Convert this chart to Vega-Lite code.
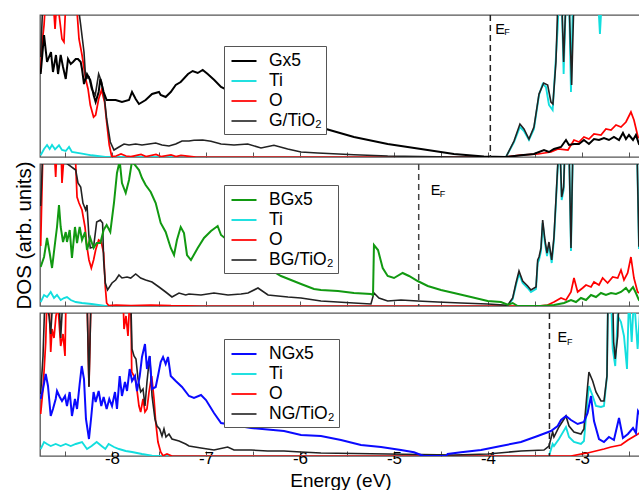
{
"$schema": "https://vega.github.io/schema/vega-lite/v6.json",
"padding": {"left": 13, "top": 13, "right": 0, "bottom": 0},
"spacing": 1,
"config": {"view": {"stroke": "#555555", "strokeWidth": 1.3}, "font": "Liberation Sans"},
"resolve": {"scale": {"color": "independent", "strokeWidth": "independent", "y": "independent", "x": "independent"}, "legend": {"color": "independent"}},
"datasets": {
"top": [
{"s":"Ti","e":-8.759,"d":1.7},{"s":"Ti","e":-8.723,"d":8},{"s":"Ti","e":-8.691,"d":12},{"s":"Ti","e":-8.663,"d":8},{"s":"Ti","e":-8.638,"d":12},{"s":"Ti","e":-8.606,"d":7.7},{"s":"Ti","e":-8.564,"d":11.7},{"s":"Ti","e":-8.532,"d":7},{"s":"Ti","e":-8.492,"d":6},{"s":"Ti","e":-8.457,"d":10},{"s":"Ti","e":-8.426,"d":5},{"s":"Ti","e":-8.319,"d":3.3},{"s":"Ti","e":-8.217,"d":1.7},{"s":"Ti","e":-8.071,"d":0},{"s":"Ti","e":-3.809,"d":0},{"s":"Ti","e":-3.723,"d":15},{"s":"Ti","e":-3.66,"d":30},{"s":"Ti","e":-3.617,"d":26},{"s":"Ti","e":-3.564,"d":17},{"s":"Ti","e":-3.511,"d":28},{"s":"Ti","e":-3.457,"d":62},{"s":"Ti","e":-3.418,"d":73},{"s":"Ti","e":-3.383,"d":70},{"s":"Ti","e":-3.351,"d":52},{"s":"Ti","e":-3.312,"d":47},{"s":"Ti","e":-3.298,"d":68},{"s":"Ti","e":-3.259,"d":128},{"s":"Ti","e":-3.245,"d":160},{"s":"Ti","e":-3.216,"d":160},{"s":"Ti","e":-3.195,"d":83},{"s":"Ti","e":-3.17,"d":160},{"s":"Ti","e":-3.138,"d":160},{"s":"Ti","e":-3.117,"d":65},{"s":"Ti","e":-3.096,"d":160},{"s":"Ti","e":-2.83,"d":160},{"s":"Ti","e":-2.809,"d":123},{"s":"Ti","e":-2.787,"d":160},{"s":"Ti","e":-2.372,"d":160},
{"s":"O","e":-8.759,"d":85},{"s":"O","e":-8.745,"d":112},{"s":"O","e":-8.723,"d":132},{"s":"O","e":-8.705,"d":160},{"s":"O","e":-8.628,"d":160},{"s":"O","e":-8.606,"d":128},{"s":"O","e":-8.585,"d":160},{"s":"O","e":-8.532,"d":118},{"s":"O","e":-8.511,"d":115},{"s":"O","e":-8.489,"d":160},{"s":"O","e":-8.383,"d":160},{"s":"O","e":-8.351,"d":118},{"s":"O","e":-8.319,"d":102},{"s":"O","e":-8.28,"d":78},{"s":"O","e":-8.255,"d":68},{"s":"O","e":-8.231,"d":52},{"s":"O","e":-8.196,"d":40},{"s":"O","e":-8.174,"d":42},{"s":"O","e":-8.142,"d":58},{"s":"O","e":-8.111,"d":67},{"s":"O","e":-8.079,"d":55},{"s":"O","e":-8.057,"d":35},{"s":"O","e":-8.029,"d":12},{"s":"O","e":-8.003,"d":0.5},{"s":"O","e":-7.957,"d":1},{"s":"O","e":-7.904,"d":3},{"s":"O","e":-7.851,"d":1},{"s":"O","e":-7.798,"d":0.3},{"s":"O","e":-7.691,"d":2.5},{"s":"O","e":-7.638,"d":0.5},{"s":"O","e":-7.532,"d":2.5},{"s":"O","e":-7.479,"d":0.5},{"s":"O","e":-7.372,"d":2},{"s":"O","e":-7.319,"d":0.5},{"s":"O","e":-7.266,"d":1.5},{"s":"O","e":-7.106,"d":0},{"s":"O","e":-3.809,"d":0},{"s":"O","e":-3.649,"d":2},{"s":"O","e":-3.468,"d":3},{"s":"O","e":-3.33,"d":5},{"s":"O","e":-3.255,"d":8},{"s":"O","e":-3.149,"d":7},{"s":"O","e":-3.085,"d":17},{"s":"O","e":-3.032,"d":15},{"s":"O","e":-2.979,"d":20},{"s":"O","e":-2.926,"d":18},{"s":"O","e":-2.872,"d":23},{"s":"O","e":-2.798,"d":22},{"s":"O","e":-2.745,"d":28},{"s":"O","e":-2.691,"d":27},{"s":"O","e":-2.638,"d":32},{"s":"O","e":-2.585,"d":30},{"s":"O","e":-2.532,"d":35},{"s":"O","e":-2.479,"d":45},{"s":"O","e":-2.447,"d":37},{"s":"O","e":-2.404,"d":20},{"s":"O","e":-2.372,"d":18},
{"s":"G/TiO₂","e":-8.759,"d":100},{"s":"G/TiO₂","e":-8.734,"d":160},{"s":"G/TiO₂","e":-8.372,"d":160},{"s":"G/TiO₂","e":-8.333,"d":132},{"s":"G/TiO₂","e":-8.298,"d":105},{"s":"G/TiO₂","e":-8.28,"d":78},{"s":"G/TiO₂","e":-8.245,"d":80},{"s":"G/TiO₂","e":-8.217,"d":68},{"s":"G/TiO₂","e":-8.178,"d":62},{"s":"G/TiO₂","e":-8.142,"d":83},{"s":"G/TiO₂","e":-8.111,"d":75},{"s":"G/TiO₂","e":-8.079,"d":58},{"s":"G/TiO₂","e":-8.057,"d":38},{"s":"G/TiO₂","e":-8.018,"d":15},{"s":"G/TiO₂","e":-7.979,"d":7},{"s":"G/TiO₂","e":-7.926,"d":10},{"s":"G/TiO₂","e":-7.872,"d":13},{"s":"G/TiO₂","e":-7.819,"d":12},{"s":"G/TiO₂","e":-7.748,"d":13},{"s":"G/TiO₂","e":-7.681,"d":12},{"s":"G/TiO₂","e":-7.606,"d":13},{"s":"G/TiO₂","e":-7.535,"d":14},{"s":"G/TiO₂","e":-7.468,"d":12},{"s":"G/TiO₂","e":-7.394,"d":11},{"s":"G/TiO₂","e":-7.322,"d":13},{"s":"G/TiO₂","e":-7.255,"d":16},{"s":"G/TiO₂","e":-7.181,"d":16},{"s":"G/TiO₂","e":-7.128,"d":16.7},{"s":"G/TiO₂","e":-7.035,"d":17},{"s":"G/TiO₂","e":-6.947,"d":15.7},{"s":"G/TiO₂","e":-6.84,"d":13},{"s":"G/TiO₂","e":-6.702,"d":12},{"s":"G/TiO₂","e":-6.556,"d":13},{"s":"G/TiO₂","e":-6.415,"d":9},{"s":"G/TiO₂","e":-6.277,"d":11.7},{"s":"G/TiO₂","e":-6.131,"d":8},{"s":"G/TiO₂","e":-5.989,"d":5},{"s":"G/TiO₂","e":-5.812,"d":4},{"s":"G/TiO₂","e":-5.426,"d":2.3},{"s":"G/TiO₂","e":-5.067,"d":1},{"s":"G/TiO₂","e":-4.362,"d":0},{"s":"G/TiO₂","e":-3.809,"d":0},{"s":"G/TiO₂","e":-3.723,"d":16},{"s":"G/TiO₂","e":-3.66,"d":33},{"s":"G/TiO₂","e":-3.617,"d":28},{"s":"G/TiO₂","e":-3.564,"d":18},{"s":"G/TiO₂","e":-3.511,"d":30},{"s":"G/TiO₂","e":-3.457,"d":63},{"s":"G/TiO₂","e":-3.407,"d":74},{"s":"G/TiO₂","e":-3.365,"d":72},{"s":"G/TiO₂","e":-3.33,"d":55},{"s":"G/TiO₂","e":-3.309,"d":53},{"s":"G/TiO₂","e":-3.277,"d":95},{"s":"G/TiO₂","e":-3.255,"d":160},{"s":"G/TiO₂","e":-3.216,"d":160},{"s":"G/TiO₂","e":-3.195,"d":95},{"s":"G/TiO₂","e":-3.17,"d":160},{"s":"G/TiO₂","e":-3.138,"d":160},{"s":"G/TiO₂","e":-3.11,"d":72},{"s":"G/TiO₂","e":-3.085,"d":160},{"s":"G/TiO₂","e":-2.372,"d":160},
{"s":"Gx5","e":-8.759,"d":83},{"s":"Gx5","e":-8.723,"d":122},{"s":"Gx5","e":-8.691,"d":95},{"s":"Gx5","e":-8.649,"d":105},{"s":"Gx5","e":-8.628,"d":85},{"s":"Gx5","e":-8.596,"d":102},{"s":"Gx5","e":-8.574,"d":83},{"s":"Gx5","e":-8.546,"d":102},{"s":"Gx5","e":-8.521,"d":90},{"s":"Gx5","e":-8.492,"d":78},{"s":"Gx5","e":-8.468,"d":98},{"s":"Gx5","e":-8.439,"d":93},{"s":"Gx5","e":-8.415,"d":95},{"s":"Gx5","e":-8.386,"d":98},{"s":"Gx5","e":-8.362,"d":98},{"s":"Gx5","e":-8.333,"d":95},{"s":"Gx5","e":-8.319,"d":88},{"s":"Gx5","e":-8.298,"d":73},{"s":"Gx5","e":-8.266,"d":83},{"s":"Gx5","e":-8.231,"d":77},{"s":"Gx5","e":-8.196,"d":62},{"s":"Gx5","e":-8.174,"d":55},{"s":"Gx5","e":-8.142,"d":65},{"s":"Gx5","e":-8.124,"d":78},{"s":"Gx5","e":-8.089,"d":65},{"s":"Gx5","e":-8.057,"d":57},{"s":"Gx5","e":-7.961,"d":57},{"s":"Gx5","e":-7.894,"d":55},{"s":"Gx5","e":-7.819,"d":57},{"s":"Gx5","e":-7.787,"d":65},{"s":"Gx5","e":-7.748,"d":58},{"s":"Gx5","e":-7.713,"d":53},{"s":"Gx5","e":-7.642,"d":57},{"s":"Gx5","e":-7.574,"d":63},{"s":"Gx5","e":-7.5,"d":65},{"s":"Gx5","e":-7.482,"d":62},{"s":"Gx5","e":-7.429,"d":60},{"s":"Gx5","e":-7.375,"d":65},{"s":"Gx5","e":-7.322,"d":72},{"s":"Gx5","e":-7.269,"d":75},{"s":"Gx5","e":-7.191,"d":83},{"s":"Gx5","e":-7.142,"d":86},{"s":"Gx5","e":-7.088,"d":84},{"s":"Gx5","e":-7.035,"d":87},{"s":"Gx5","e":-6.982,"d":83},{"s":"Gx5","e":-6.912,"d":77},{"s":"Gx5","e":-6.84,"d":70},{"s":"Gx5","e":-6.521,"d":55},{"s":"Gx5","e":-6.096,"d":40},{"s":"Gx5","e":-5.723,"d":28},{"s":"Gx5","e":-5.426,"d":20},{"s":"Gx5","e":-5.067,"d":13},{"s":"Gx5","e":-4.713,"d":8},{"s":"Gx5","e":-4.362,"d":3},{"s":"Gx5","e":-4.043,"d":0.5},{"s":"Gx5","e":-3.809,"d":0},{"s":"Gx5","e":-3.649,"d":1.7},{"s":"Gx5","e":-3.511,"d":3},{"s":"Gx5","e":-3.404,"d":7},{"s":"Gx5","e":-3.351,"d":5},{"s":"Gx5","e":-3.298,"d":8},{"s":"Gx5","e":-3.223,"d":10},{"s":"Gx5","e":-3.17,"d":17},{"s":"Gx5","e":-3.138,"d":12},{"s":"Gx5","e":-3.085,"d":13},{"s":"Gx5","e":-3.032,"d":13},{"s":"Gx5","e":-2.979,"d":17},{"s":"Gx5","e":-2.926,"d":13},{"s":"Gx5","e":-2.872,"d":18},{"s":"Gx5","e":-2.819,"d":17},{"s":"Gx5","e":-2.766,"d":19},{"s":"Gx5","e":-2.713,"d":17},{"s":"Gx5","e":-2.66,"d":20},{"s":"Gx5","e":-2.606,"d":17},{"s":"Gx5","e":-2.564,"d":24},{"s":"Gx5","e":-2.532,"d":18},{"s":"Gx5","e":-2.5,"d":22},{"s":"Gx5","e":-2.457,"d":17},{"s":"Gx5","e":-2.426,"d":22},{"s":"Gx5","e":-2.394,"d":13},{"s":"Gx5","e":-2.372,"d":12}
],
"mid": [
{"s":"Ti","e":-8.759,"d":4},{"s":"Ti","e":-8.723,"d":11},{"s":"Ti","e":-8.691,"d":9},{"s":"Ti","e":-8.652,"d":14},{"s":"Ti","e":-8.617,"d":8},{"s":"Ti","e":-8.585,"d":11},{"s":"Ti","e":-8.546,"d":6},{"s":"Ti","e":-8.511,"d":8},{"s":"Ti","e":-8.479,"d":9},{"s":"Ti","e":-8.439,"d":6},{"s":"Ti","e":-8.386,"d":4},{"s":"Ti","e":-8.319,"d":3},{"s":"Ti","e":-8.217,"d":2},{"s":"Ti","e":-8.071,"d":0},{"s":"Ti","e":-3.791,"d":0},{"s":"Ti","e":-3.737,"d":7},{"s":"Ti","e":-3.702,"d":21},{"s":"Ti","e":-3.67,"d":32},{"s":"Ti","e":-3.631,"d":23},{"s":"Ti","e":-3.578,"d":18},{"s":"Ti","e":-3.543,"d":14},{"s":"Ti","e":-3.489,"d":17},{"s":"Ti","e":-3.471,"d":43},{"s":"Ti","e":-3.457,"d":46},{"s":"Ti","e":-3.436,"d":55},{"s":"Ti","e":-3.418,"d":83},{"s":"Ti","e":-3.394,"d":63},{"s":"Ti","e":-3.372,"d":50},{"s":"Ti","e":-3.351,"d":61},{"s":"Ti","e":-3.322,"d":43},{"s":"Ti","e":-3.298,"d":66},{"s":"Ti","e":-3.277,"d":103},{"s":"Ti","e":-3.259,"d":136},{"s":"Ti","e":-3.245,"d":160},{"s":"Ti","e":-3.234,"d":160},{"s":"Ti","e":-3.216,"d":106},{"s":"Ti","e":-3.195,"d":116},{"s":"Ti","e":-3.181,"d":160},{"s":"Ti","e":-3.138,"d":160},{"s":"Ti","e":-3.117,"d":55},{"s":"Ti","e":-3.096,"d":160},{"s":"Ti","e":-2.415,"d":160},{"s":"Ti","e":-2.394,"d":58},{"s":"Ti","e":-2.372,"d":58},
{"s":"O","e":-8.759,"d":60},{"s":"O","e":-8.734,"d":160},{"s":"O","e":-8.617,"d":160},{"s":"O","e":-8.599,"d":129},{"s":"O","e":-8.585,"d":160},{"s":"O","e":-8.543,"d":160},{"s":"O","e":-8.532,"d":123},{"s":"O","e":-8.511,"d":150},{"s":"O","e":-8.394,"d":160},{"s":"O","e":-8.372,"d":109},{"s":"O","e":-8.351,"d":103},{"s":"O","e":-8.319,"d":96},{"s":"O","e":-8.287,"d":79},{"s":"O","e":-8.266,"d":59},{"s":"O","e":-8.245,"d":46},{"s":"O","e":-8.22,"d":38},{"s":"O","e":-8.196,"d":46},{"s":"O","e":-8.174,"d":56},{"s":"O","e":-8.142,"d":66},{"s":"O","e":-8.114,"d":64},{"s":"O","e":-8.089,"d":53},{"s":"O","e":-8.071,"d":19},{"s":"O","e":-8.057,"d":3},{"s":"O","e":-8.036,"d":0.5},{"s":"O","e":-7.957,"d":1},{"s":"O","e":-7.798,"d":0.5},{"s":"O","e":-7.585,"d":1},{"s":"O","e":-7.372,"d":0.3},{"s":"O","e":-7.053,"d":0},{"s":"O","e":-3.471,"d":0},{"s":"O","e":-3.365,"d":1},{"s":"O","e":-3.298,"d":4},{"s":"O","e":-3.223,"d":8},{"s":"O","e":-3.17,"d":6},{"s":"O","e":-3.117,"d":14},{"s":"O","e":-3.085,"d":28},{"s":"O","e":-3.046,"d":14},{"s":"O","e":-2.993,"d":18},{"s":"O","e":-2.957,"d":21},{"s":"O","e":-2.904,"d":19},{"s":"O","e":-2.872,"d":24},{"s":"O","e":-2.819,"d":21},{"s":"O","e":-2.78,"d":28},{"s":"O","e":-2.727,"d":23},{"s":"O","e":-2.673,"d":29},{"s":"O","e":-2.62,"d":28},{"s":"O","e":-2.585,"d":36},{"s":"O","e":-2.553,"d":26},{"s":"O","e":-2.514,"d":33},{"s":"O","e":-2.479,"d":49},{"s":"O","e":-2.447,"d":28},{"s":"O","e":-2.408,"d":14},{"s":"O","e":-2.372,"d":12},
{"s":"BG/TiO₂","e":-8.759,"d":100},{"s":"BG/TiO₂","e":-8.734,"d":160},{"s":"BG/TiO₂","e":-8.386,"d":136},{"s":"BG/TiO₂","e":-8.362,"d":123},{"s":"BG/TiO₂","e":-8.333,"d":119},{"s":"BG/TiO₂","e":-8.309,"d":103},{"s":"BG/TiO₂","e":-8.28,"d":96},{"s":"BG/TiO₂","e":-8.266,"d":101},{"s":"BG/TiO₂","e":-8.245,"d":69},{"s":"BG/TiO₂","e":-8.231,"d":58},{"s":"BG/TiO₂","e":-8.196,"d":59},{"s":"BG/TiO₂","e":-8.163,"d":84},{"s":"BG/TiO₂","e":-8.124,"d":86},{"s":"BG/TiO₂","e":-8.1,"d":83},{"s":"BG/TiO₂","e":-8.089,"d":46},{"s":"BG/TiO₂","e":-8.071,"d":23},{"s":"BG/TiO₂","e":-8.047,"d":16},{"s":"BG/TiO₂","e":-8.0,"d":23},{"s":"BG/TiO₂","e":-7.961,"d":26},{"s":"BG/TiO₂","e":-7.926,"d":31},{"s":"BG/TiO₂","e":-7.894,"d":28},{"s":"BG/TiO₂","e":-7.84,"d":29},{"s":"BG/TiO₂","e":-7.801,"d":28},{"s":"BG/TiO₂","e":-7.748,"d":32},{"s":"BG/TiO₂","e":-7.695,"d":28},{"s":"BG/TiO₂","e":-7.642,"d":26},{"s":"BG/TiO₂","e":-7.574,"d":24},{"s":"BG/TiO₂","e":-7.5,"d":19},{"s":"BG/TiO₂","e":-7.429,"d":14},{"s":"BG/TiO₂","e":-7.362,"d":9},{"s":"BG/TiO₂","e":-7.287,"d":13},{"s":"BG/TiO₂","e":-7.216,"d":11},{"s":"BG/TiO₂","e":-7.181,"d":12},{"s":"BG/TiO₂","e":-7.053,"d":11},{"s":"BG/TiO₂","e":-6.915,"d":13},{"s":"BG/TiO₂","e":-6.766,"d":11},{"s":"BG/TiO₂","e":-6.628,"d":12},{"s":"BG/TiO₂","e":-6.553,"d":13},{"s":"BG/TiO₂","e":-6.447,"d":18},{"s":"BG/TiO₂","e":-6.34,"d":11},{"s":"BG/TiO₂","e":-6.128,"d":9},{"s":"BG/TiO₂","e":-5.989,"d":8},{"s":"BG/TiO₂","e":-5.777,"d":5},{"s":"BG/TiO₂","e":-5.426,"d":3},{"s":"BG/TiO₂","e":-5.245,"d":2},{"s":"BG/TiO₂","e":-5.213,"d":13},{"s":"BG/TiO₂","e":-5.16,"d":8},{"s":"BG/TiO₂","e":-5.067,"d":5},{"s":"BG/TiO₂","e":-4.926,"d":6},{"s":"BG/TiO₂","e":-4.748,"d":5},{"s":"BG/TiO₂","e":-4.535,"d":4},{"s":"BG/TiO₂","e":-4.287,"d":3},{"s":"BG/TiO₂","e":-4.003,"d":2},{"s":"BG/TiO₂","e":-3.791,"d":0.7},{"s":"BG/TiO₂","e":-3.737,"d":8},{"s":"BG/TiO₂","e":-3.702,"d":23},{"s":"BG/TiO₂","e":-3.67,"d":35},{"s":"BG/TiO₂","e":-3.631,"d":25},{"s":"BG/TiO₂","e":-3.578,"d":20},{"s":"BG/TiO₂","e":-3.543,"d":16},{"s":"BG/TiO₂","e":-3.489,"d":19},{"s":"BG/TiO₂","e":-3.471,"d":46},{"s":"BG/TiO₂","e":-3.457,"d":49},{"s":"BG/TiO₂","e":-3.436,"d":58},{"s":"BG/TiO₂","e":-3.418,"d":86},{"s":"BG/TiO₂","e":-3.394,"d":66},{"s":"BG/TiO₂","e":-3.372,"d":53},{"s":"BG/TiO₂","e":-3.351,"d":64},{"s":"BG/TiO₂","e":-3.322,"d":46},{"s":"BG/TiO₂","e":-3.298,"d":69},{"s":"BG/TiO₂","e":-3.277,"d":106},{"s":"BG/TiO₂","e":-3.259,"d":139},{"s":"BG/TiO₂","e":-3.245,"d":160},{"s":"BG/TiO₂","e":-3.234,"d":160},{"s":"BG/TiO₂","e":-3.216,"d":109},{"s":"BG/TiO₂","e":-3.195,"d":119},{"s":"BG/TiO₂","e":-3.181,"d":160},{"s":"BG/TiO₂","e":-3.138,"d":160},{"s":"BG/TiO₂","e":-3.117,"d":58},{"s":"BG/TiO₂","e":-3.096,"d":160},{"s":"BG/TiO₂","e":-2.415,"d":160},{"s":"BG/TiO₂","e":-2.394,"d":60},{"s":"BG/TiO₂","e":-2.372,"d":60},
{"s":"BGx5","e":-8.759,"d":39},{"s":"BGx5","e":-8.723,"d":49},{"s":"BGx5","e":-8.691,"d":68},{"s":"BGx5","e":-8.663,"d":53},{"s":"BGx5","e":-8.638,"d":38},{"s":"BGx5","e":-8.606,"d":63},{"s":"BGx5","e":-8.585,"d":79},{"s":"BGx5","e":-8.564,"d":101},{"s":"BGx5","e":-8.546,"d":79},{"s":"BGx5","e":-8.521,"d":64},{"s":"BGx5","e":-8.492,"d":74},{"s":"BGx5","e":-8.479,"d":64},{"s":"BGx5","e":-8.45,"d":76},{"s":"BGx5","e":-8.426,"d":48},{"s":"BGx5","e":-8.394,"d":79},{"s":"BGx5","e":-8.372,"d":63},{"s":"BGx5","e":-8.344,"d":79},{"s":"BGx5","e":-8.319,"d":66},{"s":"BGx5","e":-8.287,"d":74},{"s":"BGx5","e":-8.266,"d":56},{"s":"BGx5","e":-8.231,"d":68},{"s":"BGx5","e":-8.196,"d":58},{"s":"BGx5","e":-8.163,"d":63},{"s":"BGx5","e":-8.124,"d":63},{"s":"BGx5","e":-8.089,"d":76},{"s":"BGx5","e":-8.057,"d":81},{"s":"BGx5","e":-8.018,"d":74},{"s":"BGx5","e":-7.979,"d":103},{"s":"BGx5","e":-7.947,"d":133},{"s":"BGx5","e":-7.918,"d":145},{"s":"BGx5","e":-7.894,"d":123},{"s":"BGx5","e":-7.854,"d":113},{"s":"BGx5","e":-7.819,"d":126},{"s":"BGx5","e":-7.787,"d":145},{"s":"BGx5","e":-7.748,"d":140},{"s":"BGx5","e":-7.713,"d":136},{"s":"BGx5","e":-7.681,"d":128},{"s":"BGx5","e":-7.642,"d":121},{"s":"BGx5","e":-7.588,"d":114},{"s":"BGx5","e":-7.535,"d":103},{"s":"BGx5","e":-7.482,"d":83},{"s":"BGx5","e":-7.429,"d":74},{"s":"BGx5","e":-7.375,"d":58},{"s":"BGx5","e":-7.34,"d":51},{"s":"BGx5","e":-7.309,"d":66},{"s":"BGx5","e":-7.269,"d":79},{"s":"BGx5","e":-7.234,"d":73},{"s":"BGx5","e":-7.202,"d":51},{"s":"BGx5","e":-7.16,"d":46},{"s":"BGx5","e":-7.088,"d":58},{"s":"BGx5","e":-7.021,"d":68},{"s":"BGx5","e":-6.947,"d":75},{"s":"BGx5","e":-6.876,"d":80},{"s":"BGx5","e":-6.84,"d":71},{"s":"BGx5","e":-6.628,"d":55},{"s":"BGx5","e":-6.415,"d":42},{"s":"BGx5","e":-6.202,"d":30},{"s":"BGx5","e":-5.989,"d":22},{"s":"BGx5","e":-5.851,"d":17},{"s":"BGx5","e":-5.777,"d":16},{"s":"BGx5","e":-5.596,"d":15},{"s":"BGx5","e":-5.426,"d":13},{"s":"BGx5","e":-5.245,"d":12},{"s":"BGx5","e":-5.223,"d":11},{"s":"BGx5","e":-5.213,"d":61},{"s":"BGx5","e":-5.17,"d":56},{"s":"BGx5","e":-5.12,"d":38},{"s":"BGx5","e":-5.067,"d":30},{"s":"BGx5","e":-5.0,"d":28},{"s":"BGx5","e":-4.908,"d":33},{"s":"BGx5","e":-4.84,"d":30},{"s":"BGx5","e":-4.748,"d":25},{"s":"BGx5","e":-4.641,"d":20},{"s":"BGx5","e":-4.5,"d":16},{"s":"BGx5","e":-4.362,"d":13},{"s":"BGx5","e":-4.181,"d":9},{"s":"BGx5","e":-4.003,"d":5},{"s":"BGx5","e":-3.862,"d":4},{"s":"BGx5","e":-3.791,"d":1.3},{"s":"BGx5","e":-3.737,"d":3},{"s":"BGx5","e":-3.684,"d":0},{"s":"BGx5","e":-3.436,"d":0},{"s":"BGx5","e":-3.298,"d":1},{"s":"BGx5","e":-3.191,"d":3},{"s":"BGx5","e":-3.117,"d":6},{"s":"BGx5","e":-3.064,"d":4},{"s":"BGx5","e":-3.011,"d":8},{"s":"BGx5","e":-2.957,"d":6},{"s":"BGx5","e":-2.904,"d":11},{"s":"BGx5","e":-2.851,"d":9},{"s":"BGx5","e":-2.798,"d":13},{"s":"BGx5","e":-2.745,"d":11},{"s":"BGx5","e":-2.691,"d":13},{"s":"BGx5","e":-2.638,"d":12},{"s":"BGx5","e":-2.585,"d":14},{"s":"BGx5","e":-2.532,"d":18},{"s":"BGx5","e":-2.5,"d":14},{"s":"BGx5","e":-2.457,"d":19},{"s":"BGx5","e":-2.426,"d":13},{"s":"BGx5","e":-2.394,"d":6},{"s":"BGx5","e":-2.372,"d":5}
],
"bot": [
{"s":"Ti","e":-8.759,"d":7},{"s":"Ti","e":-8.723,"d":14},{"s":"Ti","e":-8.691,"d":12},{"s":"Ti","e":-8.652,"d":10},{"s":"Ti","e":-8.599,"d":12},{"s":"Ti","e":-8.546,"d":10},{"s":"Ti","e":-8.492,"d":12},{"s":"Ti","e":-8.439,"d":10},{"s":"Ti","e":-8.386,"d":12},{"s":"Ti","e":-8.319,"d":14},{"s":"Ti","e":-8.266,"d":7},{"s":"Ti","e":-8.217,"d":10},{"s":"Ti","e":-8.163,"d":14},{"s":"Ti","e":-8.111,"d":10},{"s":"Ti","e":-8.071,"d":7},{"s":"Ti","e":-8.036,"d":12},{"s":"Ti","e":-7.979,"d":9},{"s":"Ti","e":-7.926,"d":7},{"s":"Ti","e":-7.854,"d":5},{"s":"Ti","e":-7.787,"d":4},{"s":"Ti","e":-7.681,"d":2},{"s":"Ti","e":-7.574,"d":0.3},{"s":"Ti","e":-7.479,"d":0},{"s":"Ti","e":-3.351,"d":0},{"s":"Ti","e":-3.312,"d":12},{"s":"Ti","e":-3.298,"d":10},{"s":"Ti","e":-3.245,"d":17},{"s":"Ti","e":-3.17,"d":29},{"s":"Ti","e":-3.138,"d":19},{"s":"Ti","e":-3.085,"d":14},{"s":"Ti","e":-3.011,"d":12},{"s":"Ti","e":-2.979,"d":15},{"s":"Ti","e":-2.94,"d":57},{"s":"Ti","e":-2.926,"d":70},{"s":"Ti","e":-2.886,"d":60},{"s":"Ti","e":-2.851,"d":50},{"s":"Ti","e":-2.798,"d":49},{"s":"Ti","e":-2.766,"d":50},{"s":"Ti","e":-2.734,"d":80},{"s":"Ti","e":-2.723,"d":160},{"s":"Ti","e":-2.691,"d":160},{"s":"Ti","e":-2.673,"d":107},{"s":"Ti","e":-2.646,"d":90},{"s":"Ti","e":-2.62,"d":140},{"s":"Ti","e":-2.585,"d":134},{"s":"Ti","e":-2.553,"d":120},{"s":"Ti","e":-2.521,"d":87},{"s":"Ti","e":-2.5,"d":160},{"s":"Ti","e":-2.471,"d":114},{"s":"Ti","e":-2.447,"d":160},{"s":"Ti","e":-2.408,"d":107},{"s":"Ti","e":-2.372,"d":160},
{"s":"O","e":-8.759,"d":42},{"s":"O","e":-8.734,"d":67},{"s":"O","e":-8.705,"d":114},{"s":"O","e":-8.691,"d":160},{"s":"O","e":-8.67,"d":160},{"s":"O","e":-8.652,"d":104},{"s":"O","e":-8.638,"d":127},{"s":"O","e":-8.617,"d":118},{"s":"O","e":-8.596,"d":140},{"s":"O","e":-8.574,"d":150},{"s":"O","e":-8.546,"d":110},{"s":"O","e":-8.521,"d":122},{"s":"O","e":-8.5,"d":100},{"s":"O","e":-8.489,"d":160},{"s":"O","e":-8.266,"d":160},{"s":"O","e":-8.245,"d":70},{"s":"O","e":-8.223,"d":160},{"s":"O","e":-7.883,"d":160},{"s":"O","e":-7.872,"d":127},{"s":"O","e":-7.851,"d":140},{"s":"O","e":-7.83,"d":120},{"s":"O","e":-7.809,"d":160},{"s":"O","e":-7.801,"d":160},{"s":"O","e":-7.79,"d":84},{"s":"O","e":-7.766,"d":80},{"s":"O","e":-7.745,"d":74},{"s":"O","e":-7.713,"d":50},{"s":"O","e":-7.695,"d":44},{"s":"O","e":-7.67,"d":57},{"s":"O","e":-7.649,"d":44},{"s":"O","e":-7.628,"d":47},{"s":"O","e":-7.606,"d":64},{"s":"O","e":-7.578,"d":80},{"s":"O","e":-7.553,"d":57},{"s":"O","e":-7.535,"d":34},{"s":"O","e":-7.511,"d":14},{"s":"O","e":-7.482,"d":4},{"s":"O","e":-7.457,"d":0.3},{"s":"O","e":-7.415,"d":2},{"s":"O","e":-7.362,"d":0},{"s":"O","e":-3.351,"d":0},{"s":"O","e":-3.117,"d":0},{"s":"O","e":-3.011,"d":2},{"s":"O","e":-2.94,"d":3},{"s":"O","e":-2.766,"d":7},{"s":"O","e":-2.691,"d":9},{"s":"O","e":-2.585,"d":11},{"s":"O","e":-2.511,"d":16},{"s":"O","e":-2.457,"d":19},{"s":"O","e":-2.404,"d":22},{"s":"O","e":-2.372,"d":24},
{"s":"NG/TiO₂","e":-8.759,"d":62},{"s":"NG/TiO₂","e":-8.734,"d":100},{"s":"NG/TiO₂","e":-8.713,"d":160},{"s":"NG/TiO₂","e":-8.67,"d":140},{"s":"NG/TiO₂","e":-8.652,"d":122},{"s":"NG/TiO₂","e":-8.628,"d":160},{"s":"NG/TiO₂","e":-8.564,"d":160},{"s":"NG/TiO₂","e":-8.546,"d":118},{"s":"NG/TiO₂","e":-8.521,"d":160},{"s":"NG/TiO₂","e":-8.266,"d":160},{"s":"NG/TiO₂","e":-8.245,"d":69},{"s":"NG/TiO₂","e":-8.223,"d":160},{"s":"NG/TiO₂","e":-7.801,"d":160},{"s":"NG/TiO₂","e":-7.787,"d":107},{"s":"NG/TiO₂","e":-7.766,"d":100},{"s":"NG/TiO₂","e":-7.745,"d":97},{"s":"NG/TiO₂","e":-7.723,"d":77},{"s":"NG/TiO₂","e":-7.695,"d":64},{"s":"NG/TiO₂","e":-7.67,"d":67},{"s":"NG/TiO₂","e":-7.649,"d":50},{"s":"NG/TiO₂","e":-7.628,"d":74},{"s":"NG/TiO₂","e":-7.599,"d":100},{"s":"NG/TiO₂","e":-7.574,"d":60},{"s":"NG/TiO₂","e":-7.543,"d":37},{"s":"NG/TiO₂","e":-7.521,"d":30},{"s":"NG/TiO₂","e":-7.493,"d":27},{"s":"NG/TiO₂","e":-7.468,"d":20},{"s":"NG/TiO₂","e":-7.447,"d":27},{"s":"NG/TiO₂","e":-7.426,"d":19},{"s":"NG/TiO₂","e":-7.394,"d":22},{"s":"NG/TiO₂","e":-7.362,"d":17},{"s":"NG/TiO₂","e":-7.287,"d":15},{"s":"NG/TiO₂","e":-7.216,"d":12},{"s":"NG/TiO₂","e":-7.181,"d":10},{"s":"NG/TiO₂","e":-7.053,"d":8},{"s":"NG/TiO₂","e":-6.915,"d":6},{"s":"NG/TiO₂","e":-6.769,"d":9},{"s":"NG/TiO₂","e":-6.702,"d":6},{"s":"NG/TiO₂","e":-6.521,"d":6},{"s":"NG/TiO₂","e":-6.344,"d":5},{"s":"NG/TiO₂","e":-6.17,"d":5},{"s":"NG/TiO₂","e":-5.989,"d":4},{"s":"NG/TiO₂","e":-5.777,"d":3},{"s":"NG/TiO₂","e":-5.067,"d":2},{"s":"NG/TiO₂","e":-4.362,"d":1},{"s":"NG/TiO₂","e":-4.003,"d":2},{"s":"NG/TiO₂","e":-3.649,"d":5},{"s":"NG/TiO₂","e":-3.404,"d":6},{"s":"NG/TiO₂","e":-3.351,"d":10},{"s":"NG/TiO₂","e":-3.312,"d":24},{"s":"NG/TiO₂","e":-3.298,"d":19},{"s":"NG/TiO₂","e":-3.245,"d":29},{"s":"NG/TiO₂","e":-3.17,"d":40},{"s":"NG/TiO₂","e":-3.138,"d":30},{"s":"NG/TiO₂","e":-3.085,"d":24},{"s":"NG/TiO₂","e":-3.011,"d":22},{"s":"NG/TiO₂","e":-2.979,"d":27},{"s":"NG/TiO₂","e":-2.94,"d":70},{"s":"NG/TiO₂","e":-2.926,"d":84},{"s":"NG/TiO₂","e":-2.886,"d":75},{"s":"NG/TiO₂","e":-2.851,"d":64},{"s":"NG/TiO₂","e":-2.798,"d":55},{"s":"NG/TiO₂","e":-2.766,"d":55},{"s":"NG/TiO₂","e":-2.734,"d":80},{"s":"NG/TiO₂","e":-2.723,"d":160},{"s":"NG/TiO₂","e":-2.673,"d":160},{"s":"NG/TiO₂","e":-2.663,"d":114},{"s":"NG/TiO₂","e":-2.646,"d":97},{"s":"NG/TiO₂","e":-2.62,"d":120},{"s":"NG/TiO₂","e":-2.606,"d":160},{"s":"NG/TiO₂","e":-2.372,"d":160},
{"s":"NGx5","e":-8.759,"d":57},{"s":"NGx5","e":-8.734,"d":67},{"s":"NGx5","e":-8.705,"d":82},{"s":"NGx5","e":-8.681,"d":70},{"s":"NGx5","e":-8.652,"d":40},{"s":"NGx5","e":-8.628,"d":47},{"s":"NGx5","e":-8.599,"d":57},{"s":"NGx5","e":-8.585,"d":65},{"s":"NGx5","e":-8.556,"d":59},{"s":"NGx5","e":-8.532,"d":55},{"s":"NGx5","e":-8.5,"d":60},{"s":"NGx5","e":-8.479,"d":50},{"s":"NGx5","e":-8.45,"d":64},{"s":"NGx5","e":-8.426,"d":40},{"s":"NGx5","e":-8.394,"d":57},{"s":"NGx5","e":-8.372,"d":47},{"s":"NGx5","e":-8.344,"d":72},{"s":"NGx5","e":-8.322,"d":90},{"s":"NGx5","e":-8.298,"d":77},{"s":"NGx5","e":-8.277,"d":37},{"s":"NGx5","e":-8.245,"d":17},{"s":"NGx5","e":-8.22,"d":40},{"s":"NGx5","e":-8.196,"d":64},{"s":"NGx5","e":-8.174,"d":54},{"s":"NGx5","e":-8.142,"d":65},{"s":"NGx5","e":-8.114,"d":50},{"s":"NGx5","e":-8.089,"d":59},{"s":"NGx5","e":-8.057,"d":47},{"s":"NGx5","e":-8.029,"d":57},{"s":"NGx5","e":-8.0,"d":50},{"s":"NGx5","e":-7.968,"d":64},{"s":"NGx5","e":-7.947,"d":47},{"s":"NGx5","e":-7.918,"d":80},{"s":"NGx5","e":-7.894,"d":60},{"s":"NGx5","e":-7.862,"d":74},{"s":"NGx5","e":-7.84,"d":65},{"s":"NGx5","e":-7.812,"d":87},{"s":"NGx5","e":-7.787,"d":75},{"s":"NGx5","e":-7.755,"d":80},{"s":"NGx5","e":-7.734,"d":65},{"s":"NGx5","e":-7.705,"d":80},{"s":"NGx5","e":-7.681,"d":99},{"s":"NGx5","e":-7.649,"d":112},{"s":"NGx5","e":-7.628,"d":87},{"s":"NGx5","e":-7.599,"d":100},{"s":"NGx5","e":-7.574,"d":67},{"s":"NGx5","e":-7.535,"d":69},{"s":"NGx5","e":-7.511,"d":80},{"s":"NGx5","e":-7.482,"d":94},{"s":"NGx5","e":-7.457,"d":99},{"s":"NGx5","e":-7.429,"d":92},{"s":"NGx5","e":-7.404,"d":99},{"s":"NGx5","e":-7.375,"d":80},{"s":"NGx5","e":-7.322,"d":75},{"s":"NGx5","e":-7.255,"d":69},{"s":"NGx5","e":-7.181,"d":60},{"s":"NGx5","e":-7.128,"d":58},{"s":"NGx5","e":-7.053,"d":61},{"s":"NGx5","e":-7.0,"d":56},{"s":"NGx5","e":-6.915,"d":43},{"s":"NGx5","e":-6.84,"d":33},{"s":"NGx5","e":-6.521,"d":28},{"s":"NGx5","e":-6.17,"d":25},{"s":"NGx5","e":-5.989,"d":21},{"s":"NGx5","e":-5.777,"d":20},{"s":"NGx5","e":-5.564,"d":16},{"s":"NGx5","e":-5.351,"d":11},{"s":"NGx5","e":-5.138,"d":9},{"s":"NGx5","e":-4.926,"d":6},{"s":"NGx5","e":-4.787,"d":3.7},{"s":"NGx5","e":-4.713,"d":1},{"s":"NGx5","e":-4.681,"d":0},{"s":"NGx5","e":-4.447,"d":0},{"s":"NGx5","e":-4.429,"d":2},{"s":"NGx5","e":-4.287,"d":3.7},{"s":"NGx5","e":-4.074,"d":6},{"s":"NGx5","e":-3.862,"d":10},{"s":"NGx5","e":-3.649,"d":14},{"s":"NGx5","e":-3.471,"d":20},{"s":"NGx5","e":-3.33,"d":25},{"s":"NGx5","e":-3.259,"d":30},{"s":"NGx5","e":-3.223,"d":36},{"s":"NGx5","e":-3.17,"d":40},{"s":"NGx5","e":-3.117,"d":36},{"s":"NGx5","e":-3.046,"d":32},{"s":"NGx5","e":-2.979,"d":34},{"s":"NGx5","e":-2.94,"d":43},{"s":"NGx5","e":-2.904,"d":60},{"s":"NGx5","e":-2.872,"d":35},{"s":"NGx5","e":-2.819,"d":17},{"s":"NGx5","e":-2.766,"d":14},{"s":"NGx5","e":-2.713,"d":19},{"s":"NGx5","e":-2.66,"d":16},{"s":"NGx5","e":-2.606,"d":38},{"s":"NGx5","e":-2.564,"d":18},{"s":"NGx5","e":-2.511,"d":22},{"s":"NGx5","e":-2.457,"d":28},{"s":"NGx5","e":-2.426,"d":23},{"s":"NGx5","e":-2.404,"d":45},{"s":"NGx5","e":-2.372,"d":40}
]
},
"vconcat": [
{
"width": 601, "height": 142,
"layer": [
{"data": {"name": "top"}, "mark": {"type": "line", "clip": true},
 "encoding": {
  "x": {"field": "e", "type": "quantitative", "scale": {"domain": [-8.766, -2.372], "nice": false, "zero": false},
        "axis": {"values": [-8.5,-8,-7.5,-7,-6.5,-6,-5.5,-5,-4.5,-4,-3.5,-3,-2.5], "labels": false, "title": null, "tickSize": -5, "tickColor": "#555555", "domain": false, "grid": false}},
  "y": {"field": "d", "type": "quantitative", "scale": {"domain": [0, 142], "nice": false, "zero": false}, "axis": null},
  "color": {"field": "s", "type": "nominal", "scale": {"domain": ["Gx5","Ti","O","G/TiO₂"], "range": ["#000000","#12dede","#ff0000","#222222"]},
        "legend": {"orient": "none", "legendX": 184, "legendY": 31, "title": null, "symbolType": "M-1.25,0H1.25", "symbolSize": 400, "symbolStrokeWidth": 1.8, "symbolOffset": 5, "labelOffset": 14, "labelFontSize": 17.5, "labelFont": "Liberation Sans", "labelColor": "#000000", "strokeColor": "#555555", "fillColor": "#ffffff", "padding": 4, "rowPadding": -1, "zindex": 1}},
  "strokeWidth": {"field": "s", "type": "nominal", "scale": {"domain": ["Gx5","Ti","O","G/TiO₂"], "range": [2, 1.6, 1.6, 1.3]}, "legend": null}
 }},
{"data": {"values": [{"ef": -3.975}]}, "mark": {"type": "rule", "strokeDash": [6, 4], "strokeWidth": 1.5, "color": "#222222"},
 "encoding": {"x": {"field": "ef", "type": "quantitative"}}},
{"data": {"values": [{"ef": -3.975}]}, "mark": {"type": "text", "text": "E", "align": "left", "baseline": "alphabetic", "dx": 5, "fontSize": 14.5, "font": "Liberation Sans", "color": "#000000"},
 "encoding": {"x": {"field": "ef", "type": "quantitative"}, "y": {"datum": 123}}},
{"data": {"values": [{"ef": -3.975}]}, "mark": {"type": "text", "text": "F", "align": "left", "baseline": "alphabetic", "dx": 14, "fontSize": 9, "font": "Liberation Sans", "color": "#000000"},
 "encoding": {"x": {"field": "ef", "type": "quantitative"}, "y": {"datum": 122}}}
]
},
{
"width": 601, "height": 142,
"layer": [
{"data": {"name": "mid"}, "mark": {"type": "line", "clip": true},
 "encoding": {
  "x": {"field": "e", "type": "quantitative", "scale": {"domain": [-8.766, -2.372], "nice": false, "zero": false},
        "axis": {"values": [-8.5,-8,-7.5,-7,-6.5,-6,-5.5,-5,-4.5,-4,-3.5,-3,-2.5], "labels": false, "title": null, "tickSize": -5, "tickColor": "#555555", "domain": false, "grid": false}},
  "y": {"field": "d", "type": "quantitative", "scale": {"domain": [0, 142], "nice": false, "zero": false},
        "axis": {"title": "DOS (arb. units)", "titleFontSize": 20.5, "titleFont": "Liberation Sans", "titleFontWeight": "normal", "titleColor": "#000000", "titlePadding": 6, "labels": false, "ticks": false, "domain": false, "grid": false}},
  "color": {"field": "s", "type": "nominal", "scale": {"domain": ["BGx5","Ti","O","BG/TiO₂"], "range": ["#119911","#12dede","#ff0000","#222222"]},
        "legend": {"orient": "none", "legendX": 184, "legendY": 21, "title": null, "symbolType": "M-1.25,0H1.25", "symbolSize": 400, "symbolStrokeWidth": 1.8, "symbolOffset": 5, "labelOffset": 14, "labelFontSize": 17.5, "labelFont": "Liberation Sans", "labelColor": "#000000", "strokeColor": "#555555", "fillColor": "#ffffff", "padding": 4, "rowPadding": -1, "zindex": 1}},
  "strokeWidth": {"field": "s", "type": "nominal", "scale": {"domain": ["BGx5","Ti","O","BG/TiO₂"], "range": [2, 1.6, 1.6, 1.3]}, "legend": null}
 }},
{"data": {"values": [{"ef": -4.737}]}, "mark": {"type": "rule", "strokeDash": [6, 4], "strokeWidth": 1.5, "color": "#444444"},
 "encoding": {"x": {"field": "ef", "type": "quantitative"}}},
{"data": {"values": [{"ef": -4.737}]}, "mark": {"type": "text", "text": "E", "align": "left", "baseline": "alphabetic", "dx": 12, "fontSize": 14.5, "font": "Liberation Sans", "color": "#000000"},
 "encoding": {"x": {"field": "ef", "type": "quantitative"}, "y": {"datum": 111}}},
{"data": {"values": [{"ef": -4.737}]}, "mark": {"type": "text", "text": "F", "align": "left", "baseline": "alphabetic", "dx": 21, "fontSize": 9, "font": "Liberation Sans", "color": "#000000"},
 "encoding": {"x": {"field": "ef", "type": "quantitative"}, "y": {"datum": 109}}}
]
},
{
"width": 601, "height": 143,
"layer": [
{"data": {"name": "bot"}, "mark": {"type": "line", "clip": true},
 "encoding": {
  "x": {"field": "e", "type": "quantitative", "scale": {"domain": [-8.766, -2.372], "nice": false, "zero": false},
        "axis": {"values": [-8.5,-8,-7.5,-7,-6.5,-6,-5.5,-5,-4.5,-4,-3.5,-3,-2.5], "labelExpr": "datum.value % 1 == 0 ? '-' + abs(datum.value) : ''", "labelFontSize": 17, "labelFont": "Liberation Sans", "labelColor": "#000000", "labelPadding": -1, "labelFlush": false, "labelOverlap": false, "tickSize": -5, "tickColor": "#555555", "domain": false, "grid": false, "title": "Energy (eV)", "titleFontSize": 19, "titleFont": "Liberation Sans", "titleFontWeight": "normal", "titleColor": "#000000", "titlePadding": 5}},
  "y": {"field": "d", "type": "quantitative", "scale": {"domain": [0, 143], "nice": false, "zero": false}, "axis": null},
  "color": {"field": "s", "type": "nominal", "scale": {"domain": ["NGx5","Ti","O","NG/TiO₂"], "range": ["#0a0aff","#12dede","#ff0000","#222222"]},
        "legend": {"orient": "none", "legendX": 184, "legendY": 26, "title": null, "symbolType": "M-1.25,0H1.25", "symbolSize": 400, "symbolStrokeWidth": 1.8, "symbolOffset": 5, "labelOffset": 14, "labelFontSize": 17.5, "labelFont": "Liberation Sans", "labelColor": "#000000", "strokeColor": "#555555", "fillColor": "#ffffff", "padding": 4, "rowPadding": -1, "zindex": 1}},
  "strokeWidth": {"field": "s", "type": "nominal", "scale": {"domain": ["NGx5","Ti","O","NG/TiO₂"], "range": [2, 1.6, 1.6, 1.3]}, "legend": null}
 }},
{"data": {"values": [{"ef": -3.346}]}, "mark": {"type": "rule", "strokeDash": [6, 4], "strokeWidth": 1.5, "color": "#222222"},
 "encoding": {"x": {"field": "ef", "type": "quantitative"}}},
{"data": {"values": [{"ef": -3.346}]}, "mark": {"type": "text", "text": "E", "align": "left", "baseline": "alphabetic", "dx": 8, "fontSize": 14.5, "font": "Liberation Sans", "color": "#000000"},
 "encoding": {"x": {"field": "ef", "type": "quantitative"}, "y": {"datum": 114}}},
{"data": {"values": [{"ef": -3.346}]}, "mark": {"type": "text", "text": "F", "align": "left", "baseline": "alphabetic", "dx": 17.5, "fontSize": 9, "font": "Liberation Sans", "color": "#000000"},
 "encoding": {"x": {"field": "ef", "type": "quantitative"}, "y": {"datum": 111}}}
]
}
]
}
